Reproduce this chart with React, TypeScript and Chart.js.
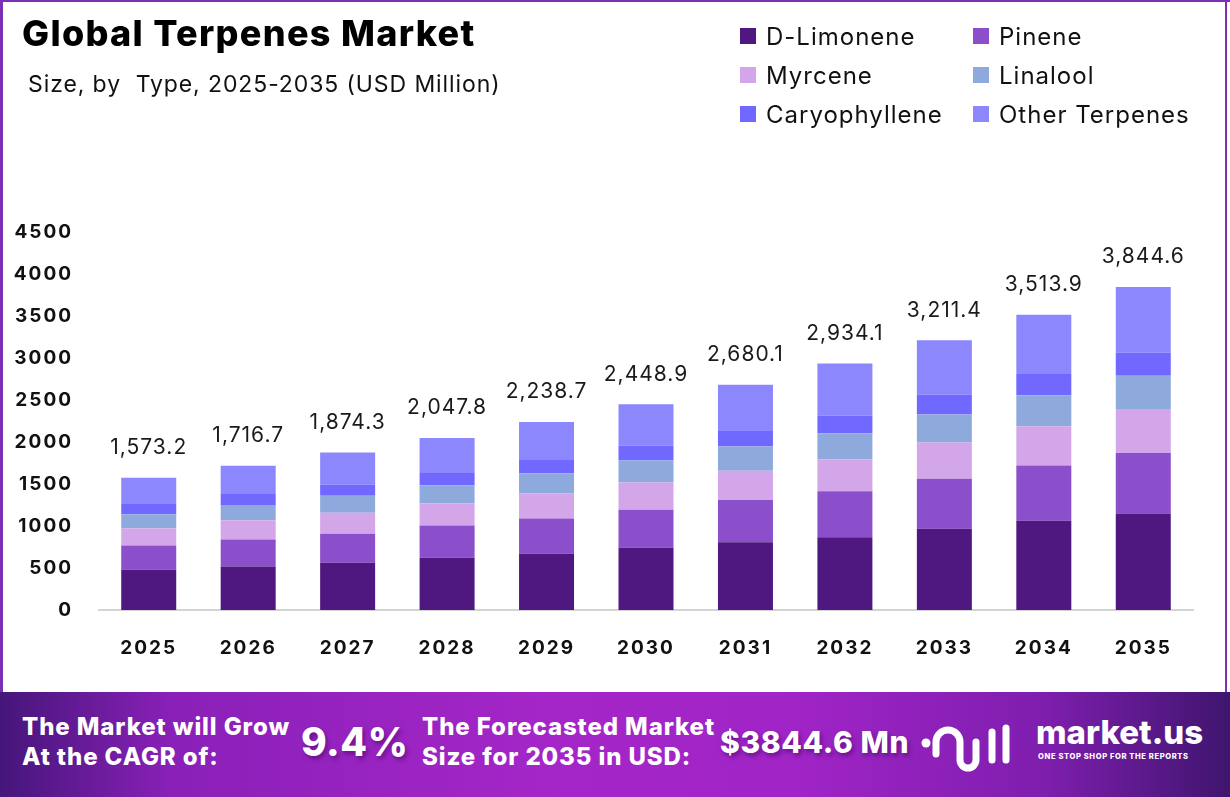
import React, { useEffect, useRef } from "react";
import { Chart, registerables } from "chart.js";

Chart.register(...registerables);

const years = ["2025", "2026", "2027", "2028", "2029", "2030", "2031", "2032", "2033", "2034", "2035"];
const dLimonene = [480, 516.5, 561.3, 622.8, 670.4, 740.6, 805.3, 867.3, 967, 1063.8, 1150];
const pinene = [289, 324.2, 346.2, 383.2, 419, 453.9, 504.8, 546.5, 596.9, 657.4, 718];
const myrcene = [204, 228, 250.7, 263.4, 299.3, 322.5, 348.5, 380.2, 429.8, 466.2, 515];
const linalool = [168, 180.3, 203, 215.6, 239.4, 262.8, 288.4, 308.9, 334.3, 370.6, 407];
const caryophyllene = [120, 131.7, 131.3, 155.7, 167.6, 179.2, 192.3, 213.8, 238.7, 251, 276];
const otherTerpenes = [312.2, 336, 381.8, 407.1, 443, 489.9, 540.8, 617.4, 644.7, 704.9, 778.6];
const yTicks = [0, 500, 1000, 1500, 2000, 2500, 3000, 3500, 4000, 4500];

const seriesNames = ["D-Limonene", "Pinene", "Myrcene", "Linalool", "Caryophyllene", "Other Terpenes"];
const seriesColors = ["#4e1880", "#8b4fcb", "#d3a6ea", "#8ea9dc", "#7068ff", "#8c87fd"];
const seriesData = [dLimonene, pinene, myrcene, linalool, caryophyllene, otherTerpenes];

const FONT = "Inter, 'Open Sans', sans-serif";

const spacingPlugin = {
  id: "spacing",
  beforeDraw(chart: any) {
    try {
      chart.ctx.letterSpacing = "2px";
    } catch (e) {}
  },
};

const totalsPlugin = {
  id: "totals",
  afterDatasetsDraw(chart: any) {
    const ctx = chart.ctx;
    const yScale = chart.scales.y;
    const meta = chart.getDatasetMeta(0);
    ctx.save();
    try {
      ctx.letterSpacing = "1px";
    } catch (e) {}
    ctx.font = `400 21px ${FONT}`;
    ctx.fillStyle = "#1a1a1a";
    ctx.textAlign = "center";
    ctx.textBaseline = "middle";
    years.forEach((_, i) => {
      let total = 0;
      chart.data.datasets.forEach((ds: any) => (total += ds.data[i]));
      const x = meta.data[i].x;
      const y = yScale.getPixelForValue(total) - 30;
      const label = total.toLocaleString("en-US", { minimumFractionDigits: 1, maximumFractionDigits: 1 });
      ctx.fillText(label, x, y);
    });
    ctx.restore();
  },
};

function ChartCanvas() {
  const ref = useRef<HTMLCanvasElement | null>(null);
  useEffect(() => {
    if (!ref.current) return;
    const chart = new Chart(ref.current, {
      type: "bar",
      data: {
        labels: years,
        datasets: seriesNames.map((name, k) => ({
          label: name,
          data: seriesData[k],
          backgroundColor: seriesColors[k],
          borderWidth: 0,
          barPercentage: 0.553,
          categoryPercentage: 1,
        })),
      },
      options: {
        animation: false,
        responsive: false,
        maintainAspectRatio: false,
        layout: { padding: { top: 232, left: 0, right: 37, bottom: 22 } },
        plugins: {
          legend: { display: false },
          tooltip: { enabled: false },
          title: { display: false },
        },
        scales: {
          x: {
            stacked: true,
            grid: { display: false, drawTicks: false },
            border: { display: true, color: "#d4d4d4", width: 2 },
            ticks: {
              color: "#111",
              font: { family: FONT, size: 19, weight: "bold" },
              padding: 27,
            },
            afterFit(scale: any) {
              scale.height = 60;
            },
          },
          y: {
            stacked: true,
            min: 0,
            max: 4500,
            afterBuildTicks(scale: any) {
              scale.ticks = yTicks.map((v) => ({ value: v }));
            },
            grid: { display: false, drawTicks: false },
            border: { display: false },
            ticks: {
              color: "#111",
              font: { family: FONT, size: 19, weight: "bold" },
              padding: 26,
              callback: (v: any) => String(v),
            },
            afterFit(scale: any) {
              scale.width = 99;
            },
          },
        },
      },
      plugins: [spacingPlugin, totalsPlugin],
    } as any);
    return () => chart.destroy();
  }, []);
  return <canvas ref={ref} width={1230} height={692} style={{ position: "absolute", left: 0, top: 0, width: 1230, height: 692 }} />;
}

export default function App() {
  useEffect(() => {
    document.body.style.margin = "0";
  }, []);
  const legendPos = [
    [740, 36], [973, 36],
    [740, 75], [973, 75],
    [740, 114], [973, 114],
  ];
  const bannerText: React.CSSProperties = {
    position: "absolute",
    color: "#fff",
    fontFamily: FONT,
    fontWeight: 800,
    fontSize: 24,
    lineHeight: "30px",
    letterSpacing: "0.9px",
    whiteSpace: "nowrap",
  };
  return (
    <div style={{ position: "fixed", left: 0, top: 0, width: 1230, height: 797, background: "#fff", overflow: "hidden", fontFamily: FONT }}>
      <ChartCanvas />
      <div style={{ position: "absolute", left: 22, top: 11, fontSize: 36, fontWeight: 800, color: "#000", letterSpacing: "1.3px", whiteSpace: "nowrap" }}>
        Global Terpenes Market
      </div>
      <div style={{ position: "absolute", left: 28, top: 70, fontSize: 23, fontWeight: 400, color: "#111", letterSpacing: "0.9px", whiteSpace: "pre" }}>
        {"Size, by  Type, 2025-2035 (USD Million)"}
      </div>
      {seriesNames.map((name, k) => (
        <div key={name} style={{ position: "absolute", left: legendPos[k][0], top: legendPos[k][1] - 15, height: 30, display: "flex", alignItems: "center", whiteSpace: "nowrap" }}>
          <div style={{ width: 16, height: 16, background: seriesColors[k], marginRight: 10 }} />
          <span style={{ fontSize: 24, color: "#111", letterSpacing: "1px" }}>{name}</span>
        </div>
      ))}
      {/* frame */}
      <div style={{ position: "absolute", left: 0, top: 0, width: 1230, height: 2, background: "#7b2fb2" }} />
      <div style={{ position: "absolute", left: 0, top: 0, width: 3, height: 692, background: "#7b2fb2" }} />
      <div style={{ position: "absolute", left: 1225, top: 0, width: 2, height: 692, background: "#7b2fb2" }} />
      {/* banner */}
      <div style={{ position: "absolute", left: 0, top: 692, width: 1230, height: 105, background: "linear-gradient(90deg, #45167a 0%, #8a20b8 14%, #a526c8 45%, #a024c6 65%, #7e1eae 85%, #3f156e 100%)" }}>
        <div style={{ ...bannerText, left: 22, top: 20 }}>
          The Market will Grow<br />At the CAGR of:
        </div>
        <div style={{ ...bannerText, left: 301, top: 25, fontSize: 39, lineHeight: "50px", letterSpacing: "0.5px", textShadow: "2px 3px 4px rgba(60,0,90,0.5)" }}>9.4%</div>
        <div style={{ ...bannerText, left: 422, top: 20 }}>
          The Forecasted Market<br />Size for 2035 in USD:
        </div>
        <div style={{ ...bannerText, left: 720, top: 25, fontSize: 30, lineHeight: "50px", letterSpacing: "0.6px", textShadow: "2px 3px 4px rgba(60,0,90,0.5)" }}>$3844.6 Mn</div>
        <svg style={{ position: "absolute", left: 916, top: 22 }} width={110} height={70} viewBox="0 0 110 70">
          <circle cx={10} cy={29} r={4.5} fill="#fff" />
          <path d="M20 40 V28 a12 12 0 0 1 24 0 V46 a8 8 0 0 0 16 0 V28" stroke="#fff" strokeWidth={7} fill="none" strokeLinecap="round" />
          <path d="M76 18 V46" stroke="#fff" strokeWidth={7} strokeLinecap="round" />
          <path d="M90 14 V46" stroke="#fff" strokeWidth={7} strokeLinecap="round" />
        </svg>
        <div style={{ ...bannerText, left: 1036, top: 20, fontSize: 33, lineHeight: "40px", letterSpacing: "0px" }}>market.us</div>
        <div style={{ ...bannerText, left: 1038, top: 60, fontSize: 7.6, lineHeight: "10px", letterSpacing: "0.6px" }}>ONE STOP SHOP FOR THE REPORTS</div>
      </div>
    </div>
  );
}
